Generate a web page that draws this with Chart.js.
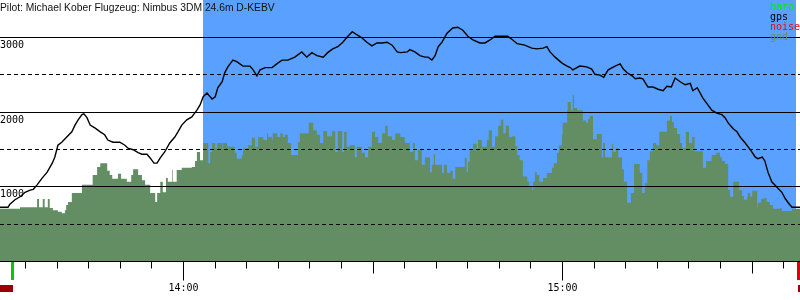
<!DOCTYPE html>
<html>
<head>
<meta charset="utf-8">
<script src="https://cdn.jsdelivr.net/npm/chart.js@4.4.1/dist/chart.umd.min.js"></script>
<style>
  html, body { margin: 0; padding: 0; background: #fff; }
  canvas { display: block; }
</style>
</head>
<body>
<canvas id="flight" width="800" height="300"></canvas>
<script>
// time in minutes after 13:00, altitude in metres
const gpsTime = [
	31.0, 32.3, 32.6, 33.4, 34.2, 35.0, 35.8, 36.3, 36.9, 37.7,
	38.5, 39.3, 39.7, 40.2, 40.8, 41.6, 42.4, 42.9, 43.4, 44.0,
	44.3, 44.8, 45.3, 46.1, 46.9, 47.6, 48.1, 48.9, 50.0, 50.8,
	51.3, 52.1, 52.9, 53.5, 54.3, 54.8, 55.4, 55.9, 56.4, 57.1,
	57.9, 58.7, 59.2, 59.8, 60.6, 61.4, 62.2, 62.7, 63.2, 63.8,
	64.6, 65.1, 65.5, 66.2, 66.6, 67.1, 67.9, 68.5, 69.5, 70.6,
	71.1, 71.7, 72.2, 73.0, 74.1, 75.0, 75.7, 76.6, 77.7, 78.8,
	79.6, 80.4, 81.2, 82.2, 82.9, 83.7, 84.5, 85.3, 86.1, 86.8,
	87.5, 88.3, 89.1, 89.9, 90.7, 91.5, 92.3, 93.1, 93.9, 94.4,
	95.5, 95.9, 96.7, 97.5, 98.3, 98.8, 99.4, 99.9, 100.4, 101.0,
	101.8, 102.7, 103.5, 104.3, 105.1, 105.9, 107.0, 107.8, 108.6, 109.4,
	110.2, 111.4, 112.2, 112.9, 114.1, 115.2, 116.0, 117.0, 117.6, 118.1,
	118.9, 120.0, 120.8, 121.3, 121.7, 122.8, 123.9, 124.7, 125.2, 126.0,
	126.6, 127.3, 128.4, 129.2, 129.7, 130.3, 131.1, 131.6, 132.3, 132.8,
	133.6, 134.4, 135.2, 136.0, 136.6, 137.3, 137.9, 138.7, 139.5, 140.3,
	140.7, 141.4, 141.8, 142.3, 143.0, 143.7, 144.5, 145.3, 145.8, 146.3,
	147.1, 147.7, 148.2, 149.0, 149.8, 150.6, 151.0, 151.7, 152.1, 152.6,
	153.2, 154.0, 154.8, 155.3, 155.8, 156.4, 157.7
];
const gpsAlt = [
	720, 720, 760, 820, 860, 920, 950, 960, 1020, 1110,
	1190, 1310, 1390, 1550, 1590, 1660, 1730, 1820, 1890, 1960,
	1970, 1920, 1820, 1780, 1730, 1690, 1620, 1590, 1590, 1550,
	1510, 1490, 1450, 1430, 1430, 1380, 1310, 1310, 1380, 1460,
	1580, 1660, 1730, 1820, 1890, 1930, 2020, 2090, 2200, 2250,
	2170, 2200, 2320, 2400, 2520, 2600, 2690, 2670, 2610, 2610,
	2560, 2480, 2560, 2590, 2590, 2650, 2690, 2690, 2730, 2800,
	2730, 2790, 2750, 2730, 2790, 2840, 2870, 2930, 3010, 3070,
	3030, 2990, 2930, 2880, 2920, 2920, 2930, 2890, 2800, 2790,
	2800, 2830, 2800, 2750, 2730, 2730, 2690, 2750, 2870, 2930,
	3050, 3120, 3130, 3090, 3010, 2960, 2920, 2920, 2960, 3010,
	3010, 3010, 2960, 2910, 2890, 2850, 2840, 2850, 2870, 2800,
	2730, 2650, 2610, 2590, 2560, 2610, 2600, 2570, 2500, 2490,
	2460, 2560, 2610, 2640, 2570, 2520, 2480, 2440, 2450, 2440,
	2330, 2330, 2300, 2280, 2340, 2330, 2450, 2400, 2360, 2380,
	2280, 2320, 2260, 2180, 2100, 2020, 1980, 1960, 1920, 1850,
	1770, 1730, 1660, 1580, 1490, 1390, 1370, 1390, 1340, 1190,
	1060, 990, 920, 840, 780, 720, 720
];
const gndTime = [
	31.0, 34.2, 36.9, 37.2, 37.8, 38.1, 38.6, 38.9, 39.4, 40.2,
	40.8, 41.3, 41.5, 41.8, 42.4, 44.0, 45.7, 46.4, 46.9, 48.0,
	48.4, 48.8, 49.7, 50.2, 51.1, 51.8, 52.1, 52.9, 53.5, 54.0,
	54.8, 55.6, 55.9, 56.4, 56.8, 57.3, 57.6, 58.3, 58.4, 59.0,
	59.8, 61.4, 61.9, 62.2, 62.7, 63.2, 64.0, 64.3, 64.6, 65.1,
	65.4, 66.2, 66.3, 67.0, 68.2, 68.5, 69.3, 69.5, 70.3, 70.9,
	71.4, 71.9, 72.7, 73.3, 73.5, 74.1, 74.2, 74.9, 75.4, 75.8,
	76.1, 76.6, 77.1, 78.2, 78.5, 79.9, 80.6, 81.2, 81.7, 82.2,
	82.8, 83.6, 84.1, 84.5, 85.2, 85.5, 85.9, 86.4, 87.2, 87.5,
	88.3, 88.8, 89.3, 89.9, 90.4, 90.9, 91.5, 92.0, 92.4, 93.1,
	93.6, 94.4, 95.1, 95.9, 96.4, 96.7, 97.2, 97.8, 98.3, 99.1,
	99.4, 99.7, 99.9, 101.0, 101.3, 101.8, 102.3, 102.7, 103.1, 104.6,
	104.9, 105.1, 105.4, 105.9, 106.5, 106.7, 107.3, 108.1, 108.4, 108.9,
	109.4, 109.9, 110.3, 110.7, 111.1, 111.6, 112.1, 112.6, 112.9, 113.3,
	113.8, 114.5, 114.8, 115.3, 115.4, 115.7, 116.0, 116.4, 117.0, 117.6,
	118.4, 118.7, 119.2, 119.5, 120.0, 120.1, 120.8, 120.9, 121.4, 121.7,
	121.9, 122.4, 123.3, 123.8, 124.1, 124.4, 124.9, 125.5, 126.3, 126.5,
	126.8, 127.9, 128.1, 128.5, 128.9, 129.5, 129.8, 130.3, 130.9, 131.4,
	132.3, 132.7, 133.1, 133.5, 133.9, 134.4, 134.9, 135.4, 136.6, 137.1,
	137.4, 137.7, 138.2, 138.7, 139.0, 139.6, 140.1, 140.6, 141.0, 142.3,
	142.8, 143.7, 144.4, 145.0, 145.3, 145.8, 146.3, 146.6, 147.1, 148.0,
	148.5, 148.8, 149.3, 149.4, 149.8, 150.1, 150.9, 151.0, 151.5, 151.8,
	152.4, 152.9, 153.4, 154.5, 154.8, 156.4, 157.7
];
const gndAlt = [
	700, 720, 830, 720, 830, 720, 830, 710, 680, 660,
	640, 680, 750, 790, 910, 1020, 1150, 1260, 1310, 1210,
	1150, 1100, 1170, 1100, 1060, 1150, 1230, 1150, 1080, 1020,
	910, 790, 910, 1060, 920, 1110, 1060, 1220, 1060, 1220,
	1250, 1260, 1340, 1460, 1350, 1580, 1310, 1460, 1580, 1510,
	1580, 1510, 1580, 1530, 1450, 1370, 1420, 1510, 1550, 1650,
	1530, 1660, 1620, 1710, 1660, 1620, 1710, 1660, 1710, 1660,
	1690, 1580, 1420, 1590, 1710, 1850, 1750, 1690, 1580, 1740,
	1670, 1740, 1460, 1740, 1460, 1730, 1530, 1550, 1390, 1530,
	1450, 1390, 1530, 1730, 1660, 1580, 1710, 1810, 1670, 1620,
	1710, 1660, 1580, 1460, 1580, 1350, 1490, 1290, 1390, 1190,
	1290, 1430, 1290, 1180, 1290, 1180, 1210, 1100, 1260, 1380,
	1190, 1330, 1490, 1570, 1490, 1620, 1530, 1620, 1750, 1530,
	1670, 1810, 1890, 1710, 1810, 1660, 1670, 1540, 1420, 1350,
	1130, 1060, 990, 950, 1060, 1190, 1150, 1060, 1110, 1180,
	1250, 1310, 1450, 1550, 1690, 1850, 2020, 2130, 2020, 2220,
	2050, 2020, 1880, 1850, 1900, 1940, 1630, 1700, 1390, 1580,
	1390, 1570, 1460, 1510, 1390, 1230, 1060, 780, 910, 1300,
	1180, 910, 1040, 1350, 1470, 1580, 1550, 1730, 1880, 1940,
	1860, 1780, 1700, 1580, 1510, 1730, 1580, 1660, 1470, 1250,
	1340, 1420, 1450, 1390, 1340, 1300, 950, 860, 1060, 950,
	870, 820, 860, 910, 860, 940, 720, 780, 830, 840,
	790, 750, 700, 710, 670, 700, 700
];
const gridLevels = [500, 1000, 1500, 2000, 2500, 3000];
const yLabels = [1000, 2000, 3000];
const legendNames = ["baro", "gps", "noise", "gnd"];
const legendColors = ["#00ee00", "#000000", "#ff0000", "#6b8e5e"];
const titleText = "Pilot: Michael Kober Flugzeug: Nimbus 3DM 24.6m D-KEBV";
const taskStart = 63.2, taskEnd = 157.0;
const takeoff = 33.0, landing = 157.4;

const SKY = "#59a0ff";
const GROUND = "#638e64";
const MONO = '10px "DejaVu Sans Mono"';

function pts(xs, ys) {
	return xs.map((t, i) => ({ x: t, y: ys[i] }));
}

const backdrop = {
	id: "backdrop",
	beforeDraw(chart) {
		const { ctx, chartArea: a, scales } = chart;
		ctx.save();
		ctx.fillStyle = "#fff";
		ctx.fillRect(0, 0, chart.width, chart.height);
		const x0 = Math.round(scales.x.getPixelForValue(taskStart));
		const x1 = Math.round(scales.x.getPixelForValue(taskEnd));
		ctx.fillStyle = SKY;
		ctx.fillRect(x0, a.top, x1 - x0, a.bottom - a.top);
		ctx.restore();
	},
	afterDatasetsDraw(chart) {
		const { ctx, chartArea: a, scales } = chart;
		const ys = scales.y, xs = scales.x;
		ctx.save();
		ctx.strokeStyle = "#000";
		ctx.lineWidth = 1;
		// horizontal levels
		gridLevels.forEach((v) => {
			const y = Math.round(ys.getPixelForValue(v)) + 0.5;
			ctx.setLineDash(v % 1000 ? [4, 3] : []);
			ctx.beginPath();
			ctx.moveTo(a.left, y);
			ctx.lineTo(a.right, y);
			ctx.stroke();
		});
		ctx.setLineDash([]);
		// base line
		const base = Math.round(ys.getPixelForValue(0)) + 0.5;
		ctx.beginPath();
		ctx.moveTo(a.left, base);
		ctx.lineTo(a.right, base);
		ctx.stroke();

		ctx.font = MONO;
		ctx.fillStyle = "#000";
		ctx.textAlign = "left";
		ctx.textBaseline = "alphabetic";
		yLabels.forEach((v) => {
			const y = Math.round(ys.getPixelForValue(v));
			ctx.fillText(String(v), 0, y + 11);
		});

		// time ticks every 5 minutes
		const first = Math.ceil(xs.min / 5) * 5;
		ctx.textAlign = "center";
		for (let m = first; m <= xs.max; m += 5) {
			const x = Math.round(xs.getPixelForValue(m)) + 0.5;
			const len = m % 60 === 0 ? 19 : m % 30 === 0 ? 12 : 7;
			ctx.beginPath();
			ctx.moveTo(x, base);
			ctx.lineTo(x, base + len);
			ctx.stroke();
			if (m % 60 === 0) {
				const h = 13 + m / 60;
				ctx.fillText(h + ":00", x, 291);
			}
		}

		// takeoff / landing marks
		const tx = Math.round(xs.getPixelForValue(takeoff));
		const lx = Math.round(xs.getPixelForValue(landing));
		ctx.fillStyle = "#00cc00";
		ctx.fillRect(tx - 1, base + 0.5, 3, 18);
		ctx.fillStyle = "#dd0000";
		ctx.fillRect(lx - 1, base + 0.5, 3, 18);
		ctx.fillStyle = "#9a0000";
		ctx.fillRect(0, 285, tx + 1, 7);
		ctx.fillRect(lx, 285, chart.width - lx, 7);

		// title and legend
		ctx.textAlign = "left";
		ctx.fillStyle = "#111";
		ctx.font = '10.3px "Liberation Sans"';
		ctx.fillText(titleText, 0, 11);
		ctx.font = MONO;
		legendNames.forEach((n, i) => {
			ctx.fillStyle = legendColors[i];
			ctx.fillText(n, 770, 10 + i * 10);
		});
		ctx.restore();
	}
};

new Chart(document.getElementById("flight"), {
	type: "line",
	data: {
		datasets: [
			{
				label: "gps",
				data: pts(gpsTime, gpsAlt),
				borderColor: "#000",
				borderWidth: 1.4,
				pointRadius: 0,
				fill: false,
				tension: 0,
				order: 0
			},
			{
				label: "gnd",
				data: pts(gndTime, gndAlt),
				borderWidth: 0,
				borderColor: GROUND,
				backgroundColor: GROUND,
				pointRadius: 0,
				stepped: true,
				fill: "origin",
				order: 1
			}
		]
	},
	options: {
		responsive: false,
		animation: false,
		devicePixelRatio: 1,
		events: [],
		layout: { padding: { left: 0, right: 0, top: 0, bottom: 39 } },
		plugins: { legend: { display: false }, tooltip: { enabled: false } },
		scales: {
			x: { type: "linear", min: 31.03, max: 157.67, display: false },
			y: { min: 0, max: 3495, display: false }
		}
	},
	plugins: [backdrop]
});
</script>
</body>
</html>
